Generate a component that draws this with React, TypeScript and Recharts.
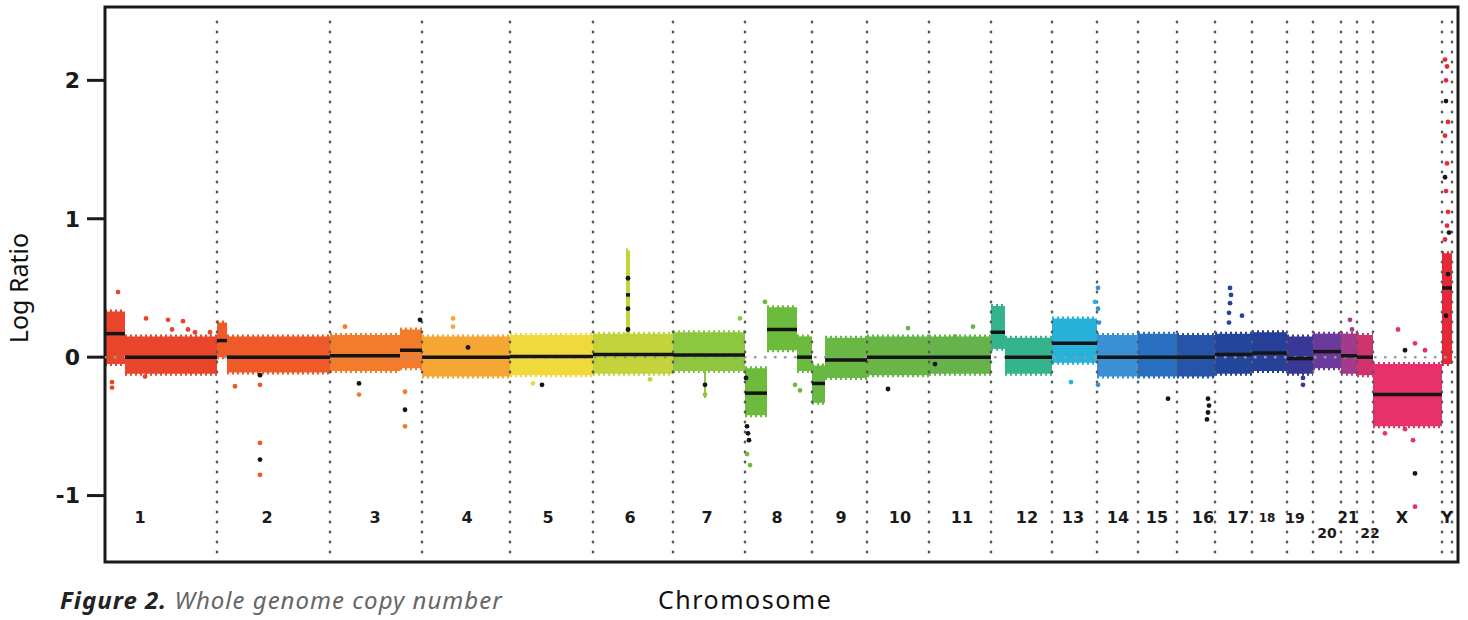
import React from "react";
import {
  ComposedChart,
  XAxis,
  YAxis,
  Area,
  Line,
  Scatter,
  ReferenceLine,
  ReferenceArea,
  ReferenceDot,
} from "recharts";

const chromosomes = [
  "1", "2", "3", "4", "5", "6", "7", "8", "9", "10", "11", "12",
  "13", "14", "15", "16", "17", "18", "19", "20", "21", "22", "X", "Y",
];

const chromColors = [
  "#e8452b", "#ee5b29", "#f27c2b", "#f5a633", "#f2d93b", "#c2d33b",
  "#8dc63f", "#6cbb3d", "#6ab844", "#69b646", "#65b34a", "#35b38c",
  "#27b2dc", "#3b8fd4", "#2a70c0", "#2554a8", "#22469c", "#263f98",
  "#3a3896", "#6c3a9c", "#a43a8c", "#d0336e", "#e8306a", "#e82838",
];

// genome position (plot units) where each chromosome ends
const chromEnds = [
  112, 225, 317, 405, 488, 568, 640, 707, 762, 824, 886, 947, 992, 1033,
  1072, 1110, 1147, 1182, 1208, 1236, 1252, 1268, 1337, 1347,
];
const genomeEnd = 1353;

const labelPos = [
  35, 162, 270, 362, 443, 525, 602, 672, 736, 795, 857, 922, 968, 1013,
  1052, 1098, 1133, 1162, 1190, 1222, 1243, 1265, 1297, 1342,
];
const labelRatio = [
  -1.16, -1.16, -1.16, -1.16, -1.16, -1.16, -1.16, -1.16, -1.16, -1.16,
  -1.16, -1.16, -1.16, -1.16, -1.16, -1.16, -1.16, -1.16, -1.16, -1.27,
  -1.16, -1.27, -1.16, -1.16,
];
const labelSize = [
  16, 16, 16, 16, 16, 16, 16, 16, 16, 16, 16, 16, 16, 16, 16, 16, 16, 12,
  14, 14, 15, 14, 16, 16,
];

const yTicks = [-1, 0, 1, 2];

// [chromosome index, start, end, segment mean, low edge, high edge]
const segments: [number, number, number, number, number, number][] = [
  [0, 0, 20, 0.17, -0.05, 0.33],
  [0, 20, 112, 0.0, -0.12, 0.15],
  [1, 112, 122, 0.12, 0.0, 0.25],
  [1, 122, 225, 0.0, -0.11, 0.15],
  [2, 225, 295, 0.01, -0.1, 0.16],
  [2, 295, 317, 0.05, -0.08, 0.2],
  [3, 317, 405, 0.0, -0.14, 0.15],
  [4, 405, 488, 0.005, -0.13, 0.16],
  [5, 488, 568, 0.02, -0.12, 0.17],
  [5, 521, 525, 0.45, 0.15, 0.77],
  [6, 568, 640, 0.015, -0.1, 0.18],
  [6, 599, 601, -0.2, -0.28, -0.1],
  [7, 640, 662, -0.26, -0.42, -0.08],
  [7, 662, 692, 0.2, 0.05, 0.36],
  [7, 692, 707, 0.0, -0.1, 0.15],
  [8, 707, 720, -0.19, -0.33, -0.06],
  [8, 720, 762, -0.02, -0.15, 0.14],
  [9, 762, 824, 0.0, -0.13, 0.15],
  [10, 824, 886, 0.0, -0.12, 0.15],
  [11, 886, 900, 0.18, 0.06, 0.37],
  [11, 900, 947, 0.0, -0.12, 0.14],
  [12, 947, 992, 0.1, -0.04, 0.28],
  [13, 992, 1033, 0.0, -0.14, 0.16],
  [14, 1033, 1072, 0.0, -0.14, 0.17],
  [15, 1072, 1110, 0.0, -0.14, 0.16],
  [16, 1110, 1147, 0.02, -0.12, 0.17],
  [17, 1147, 1182, 0.03, -0.1, 0.18],
  [18, 1182, 1208, -0.01, -0.12, 0.15],
  [19, 1208, 1236, 0.04, -0.08, 0.17],
  [20, 1236, 1252, 0.01, -0.12, 0.17],
  [21, 1252, 1268, 0.0, -0.13, 0.16],
  [22, 1268, 1337, -0.27, -0.5, -0.05],
  [23, 1337, 1347, 0.5, -0.05, 0.75],
];

// [chromosome index, position, log ratio]
const colouredOutliers: [number, number, number][] = [
  [0, 7, -0.18], [0, 7, -0.22], [0, 13, 0.47], [0, 41, 0.28], [0, 63, 0.27],
  [0, 67, 0.2], [0, 78, 0.26], [0, 83, 0.2], [0, 90, 0.18], [0, 105, 0.18],
  [0, 40, -0.14],
  [1, 130, -0.21], [1, 155, -0.62], [1, 155, -0.85], [1, 155, -0.2], [1, 120, 0.2],
  [2, 254, -0.27], [2, 300, -0.25], [2, 300, -0.5], [2, 240, 0.22],
  [3, 348, 0.28], [3, 348, 0.22],
  [4, 428, -0.19], [4, 475, 0.14],
  [5, 545, -0.16],
  [6, 600, -0.27], [6, 635, 0.28],
  [7, 660, 0.4], [7, 690, -0.2], [7, 695, -0.24], [7, 642, -0.7], [7, 645, -0.78],
  [9, 803, 0.21], [10, 868, 0.22], [10, 850, 0.15],
  [12, 966, -0.18], [12, 990, 0.4],
  [13, 993, 0.5], [13, 993, 0.35], [13, 994, 0.25], [13, 993, -0.2],
  [16, 1125, 0.5], [16, 1126, 0.45], [16, 1125, 0.39], [16, 1124, 0.32],
  [16, 1124, 0.25], [16, 1137, 0.3],
  [18, 1198, -0.2], [18, 1198, -0.15],
  [20, 1245, 0.27], [20, 1247, 0.2],
  [22, 1293, 0.2], [22, 1310, 0.1], [22, 1320, 0.05], [22, 1308, -0.6],
  [22, 1310, -1.08], [22, 1280, -0.55], [22, 1300, -0.52],
  [23, 1340, 2.15], [23, 1342, 2.1], [23, 1341, 2.0], [23, 1343, 1.7],
  [23, 1340, 1.6], [23, 1342, 1.4], [23, 1341, 1.2], [23, 1343, 1.05],
  [23, 1342, 0.95], [23, 1340, 0.85],
];

// [position, log ratio]
const blackOutliers: [number, number][] = [
  [155, -0.74], [155, -0.13], [254, -0.19], [300, -0.38], [315, 0.27],
  [363, 0.07], [437, -0.2], [523, 0.57], [523, 0.35], [523, 0.2],
  [600, -0.2], [641, -0.15], [642, -0.5], [643, -0.55], [644, -0.6],
  [783, -0.23], [830, -0.05], [1063, -0.3], [1103, -0.3], [1104, -0.35],
  [1103, -0.4], [1102, -0.45], [1310, -0.84], [1300, 0.05], [1341, 1.85],
  [1340, 1.3], [1344, 0.9], [1343, 0.6], [1341, 0.3],
];

const dot = (fill: string) => (props: any) =>
  <circle cx={props.cx} cy={props.cy} r={2.4} fill={fill} />;

const App = () => {
  return (
    <div
      style={{
        position: "absolute",
        left: 0,
        top: 0,
        width: 1468,
        height: 620,
        background: "#fff",
        overflow: "hidden",
      }}
    >
      <ComposedChart
        width={1468}
        height={620}
        margin={{ top: 7, right: 10, bottom: 58, left: 5 }}
      >
        <XAxis
          dataKey="pos"
          type="number"
          domain={[0, genomeEnd]}
          allowDataOverflow
          hide
        />
        <YAxis
          type="number"
          domain={[-1.48, 2.53]}
          ticks={yTicks}
          width={100}
          axisLine={false}
          tickSize={18}
          tickMargin={7}
          tickLine={{ stroke: "#1a1a1a", strokeWidth: 3 }}
          tick={{
            fill: "#1a1a1a",
            fontSize: 22,
            fontWeight: 700,
            fontFamily: "DejaVu Sans",
          }}
          allowDataOverflow
        />

        <ReferenceLine
          y={0}
          stroke="#999"
          strokeWidth={2.5}
          strokeLinecap="round"
          strokeDasharray="0.5 9.5"
        />

        {segments.map(([c, s, e, , lo, hi], i) => (
          <Area
            key={`band-${i}`}
            data={[
              { pos: s, band: [lo, hi] },
              { pos: e, band: [lo, hi] },
            ]}
            dataKey="band"
            type="linear"
            fill={chromColors[c]}
            fillOpacity={1}
            stroke={chromColors[c]}
            strokeWidth={4}
            strokeDasharray="2 3"
            dot={false}
            activeDot={false}
            isAnimationActive={false}
          />
        ))}

        {chromEnds.map((b) => (
          <ReferenceLine
            key={`sep-${b}`}
            segment={[
              { x: b, y: -1.41 },
              { x: b, y: 2.455 },
            ]}
            stroke="#5a5a5a"
            strokeWidth={2.6}
            strokeLinecap="round"
            strokeDasharray="0.5 9.5"
          />
        ))}

        {chromosomes.map((name, c) => (
          <Scatter
            key={`out-${name}`}
            data={colouredOutliers
              .filter((o) => o[0] === c)
              .map((o) => ({ pos: o[1], ratio: o[2] }))}
            dataKey="ratio"
            shape={dot(chromColors[c])}
            isAnimationActive={false}
          />
        ))}

        {segments.map(([, s, e, m], i) => (
          <Line
            key={`mean-${i}`}
            data={[
              { pos: s, mean: m },
              { pos: e, mean: m },
            ]}
            dataKey="mean"
            stroke="#151515"
            strokeWidth={3.5}
            dot={false}
            activeDot={false}
            isAnimationActive={false}
          />
        ))}

        <Scatter
          data={blackOutliers.map(([p, r]) => ({ pos: p, ratio: r }))}
          dataKey="ratio"
          shape={dot("#151515")}
          isAnimationActive={false}
        />

        {chromosomes.map((name, c) => (
          <ReferenceDot
            key={`lab-${name}`}
            x={labelPos[c]}
            y={labelRatio[c]}
            r={0}
            fill="none"
            stroke="none"
            label={{
              value: name,
              position: "center",
              fill: "#1a1a1a",
              fontSize: labelSize[c],
              fontWeight: 700,
              fontFamily: "DejaVu Sans",
            }}
          />
        ))}

        <ReferenceArea
          x1={0}
          x2={genomeEnd}
          y1={-1.48}
          y2={2.53}
          fill="none"
          fillOpacity={0}
          stroke="#1a1a1a"
          strokeWidth={3}
          ifOverflow="visible"
        />
      </ComposedChart>

      <div
        style={{
          position: "absolute",
          left: 18,
          top: 288,
          transform: "translate(-50%, -50%) rotate(-90deg)",
          whiteSpace: "nowrap",
          fontFamily: "Noto Sans",
          fontSize: 25,
          lineHeight: 1.2,
          color: "#111",
        }}
      >
        Log Ratio
      </div>

      <div
        style={{
          position: "absolute",
          left: 658,
          top: 584,
          whiteSpace: "nowrap",
          fontFamily: "Noto Sans",
          fontSize: 25,
          lineHeight: "30px",
          letterSpacing: 1.5,
          color: "#111",
        }}
      >
        Chromosome
      </div>

      <div
        style={{
          position: "absolute",
          left: 60,
          top: 585,
          whiteSpace: "nowrap",
          fontFamily: "Noto Sans",
          fontStyle: "italic",
          fontSize: 24,
          lineHeight: "29px",
          letterSpacing: 1,
          color: "#666",
        }}
      >
        <span style={{ fontWeight: 700, color: "#222" }}>Figure 2.</span>{" "}
        Whole genome copy number
      </div>
    </div>
  );
};

export default App;
